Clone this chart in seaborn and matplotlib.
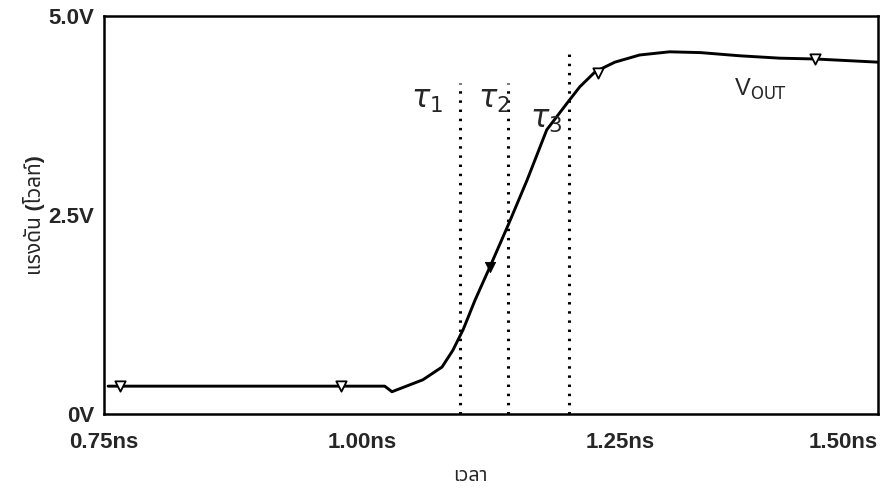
import pandas as pd
import seaborn as sns
import matplotlib.pyplot as plt

# dados (tempo em ns, tensão em V)
tempo = [0.754, 1.022, 1.029, 1.059, 1.0775, 1.088, 1.098, 1.1095, 1.124, 1.1415,
         1.160, 1.179, 1.199, 1.211, 1.226, 1.245, 1.269, 1.298, 1.328, 1.366,
         1.405, 1.439, 1.50]
tensao = [0.35, 0.35, 0.28, 0.43, 0.59, 0.80, 1.06, 1.43, 1.85, 2.37,
          2.94, 3.57, 3.91, 4.11, 4.30, 4.42, 4.51, 4.55, 4.54, 4.50,
          4.47, 4.46, 4.42]

# marcadores (triângulos) sobre a curva
marcas_t = [0.7655, 0.980, 1.229, 1.439]
marcas_v = [0.35, 0.35, 4.28, 4.46]
marca_cheia_t = [1.124]
marca_cheia_v = [1.85]

# linhas pontilhadas tau
taus = [1.095, 1.1415, 1.2006]
tau_topo = [4.16, 4.16, 4.6]
tau_nomes = [r'$\tau_{\mathsf{1}}$', r'$\tau_{\mathsf{2}}$', r'$\tau_{\mathsf{3}}$']

xticks = [0.75, 1.00, 1.25, 1.50]
xtick_labels = ['0.75ns', '1.00ns', '1.25ns', '1.50ns']
yticks = [0, 2.5, 5.0]
ytick_labels = ['0V', '2.5V', '5.0V']

sns.set_style("white")
plt.rcParams['font.family'] = ['Liberation Sans', 'Noto Sans Thai', 'DejaVu Sans']
plt.rcParams['mathtext.fontset'] = 'dejavusans'

fig = plt.figure(figsize=(8.82, 4.95), dpi=100)
ax = fig.add_axes([0.1179, 0.1636, 0.8776, 0.8041])

df = pd.DataFrame({'t': tempo, 'v': tensao})
sns.lineplot(data=df, x='t', y='v', color='black', lw=2.1, ax=ax)
sns.scatterplot(x=marcas_t, y=marcas_v, marker='v', s=55, facecolor='white',
                edgecolor='black', linewidth=1.3, zorder=5, ax=ax)
sns.scatterplot(x=marca_cheia_t, y=marca_cheia_v, marker='v', s=55, color='black',
                edgecolor='black', zorder=5, ax=ax)

for t, topo in zip(taus, tau_topo):
    ax.plot([t, t], [0, topo], color='black', lw=2.2, linestyle=(0, (0.8, 2.2)))

ax.text(1.063, 3.85, tau_nomes[0], fontsize=22, ha='center')
ax.text(1.128, 3.85, tau_nomes[1], fontsize=22, ha='center')
ax.text(1.178, 3.6, tau_nomes[2], fontsize=22, ha='center')
ax.text(1.386, 4.0, r'V$_{\mathsf{OUT}}$', fontsize=17, ha='center')

ax.set_xlim(0.75, 1.50)
ax.set_ylim(0, 5.0)
ax.set_xticks(xticks)
ax.set_xticklabels(xtick_labels, fontsize=16, fontweight='bold')
ax.set_yticks(yticks)
ax.set_yticklabels(ytick_labels, fontsize=16, fontweight='bold')
ax.get_xticklabels()[-1].set_ha('right')
ax.tick_params(axis='both', direction='out', length=6, width=1.5, color='black')
ax.tick_params(axis='x', pad=7)
ax.tick_params(axis='y', pad=1)
for s in ax.spines.values():
    s.set_linewidth(1.8)
    s.set_color('black')

ax.set_xlabel('เวลา', fontsize=14, fontweight='bold')
ax.xaxis.set_label_coords(0.473, -0.135)
ax.set_ylabel('แรงดัน (โวลท์)', fontsize=15, fontweight='bold')
ax.yaxis.set_label_coords(-0.076, 0.5)

plt.savefig('out.png', dpi=100)
